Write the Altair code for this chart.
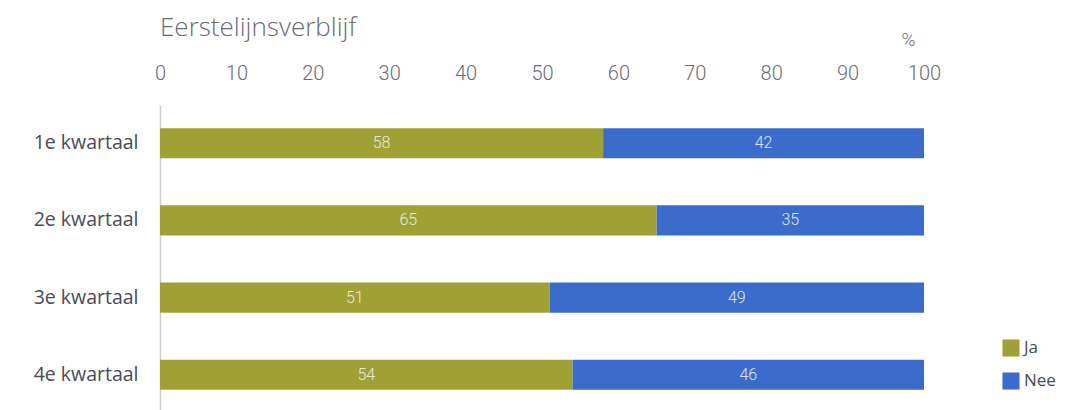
import altair as alt
import pandas as pd

quarters = ["1e kwartaal", "2e kwartaal", "3e kwartaal", "4e kwartaal"]
ja = [58, 65, 51, 54]
nee = [42, 35, 49, 46]
series = ["Ja", "Nee"]
colors = ["#a0a134", "#3b6ccb"]

rows = []
for q, a, b in zip(quarters, ja, nee):
    rows.append({"kwartaal": q, "serie": "Ja", "waarde": a, "volg": 0})
    rows.append({"kwartaal": q, "serie": "Nee", "waarde": b, "volg": 1})
df = pd.DataFrame(rows)

font = "Roboto"
font2 = "Open Sans"

base = alt.Chart(df).transform_stack(
    stack="waarde", groupby=["kwartaal"], sort=[alt.SortField("volg")], as_=["x0", "x1"]
).transform_calculate(mid="(datum.x0 + datum.x1) / 2")

y = alt.Y(
    "kwartaal:N",
    sort=quarters,
    title=None,
    scale=alt.Scale(paddingInner=0.61, paddingOuter=0.3),
    axis=alt.Axis(
        labelFont=font2, labelFontSize=19.5, labelColor="#4a4a58", labelPadding=22,
        ticks=False, domain=True, domainColor="#cfcfd8", domainWidth=1.5, grid=False,
    ),
)

bars = base.mark_bar().encode(
    x=alt.X(
        "x0:Q",
        scale=alt.Scale(domain=[0, 100]),
        axis=alt.Axis(
            orient="top", values=list(range(0, 101, 10)), grid=False, ticks=False, domain=False,
            labelFont=font, labelFontSize=20, labelFontWeight=300, labelColor="#6a6a78",
            labelPadding=22, labelFlush=False,
            title="%", titleFont=font, titleFontSize=19, titleFontWeight=300,
            titleColor="#6a6a78", titleX=748, titleY=-56, titleAlign="center",
        ),
    ),
    x2="x1:Q",
    y=y,
    color=alt.Color(
        "serie:N",
        scale=alt.Scale(domain=series, range=colors),
        legend=alt.Legend(
            title=None, orient="none", legendX=842, legendY=234, symbolType="square",
            symbolSize=290, symbolStrokeWidth=0, labelFont=font2, labelFontSize=17,
            labelColor="#4a4a58", rowPadding=15,
        ),
    ),
)

labels = base.mark_text(font=font, fontSize=16, fontWeight=300, color="#f2f2e6", opacity=0.9).encode(
    x="mid:Q",
    y=alt.Y("kwartaal:N", sort=quarters),
    text="waarde:Q",
)

chart = (
    alt.layer(bars, labels)
    .properties(
        width=764,
        height=308,
        padding={"left": 152, "top": 97, "right": 137, "bottom": 0},
        autosize=alt.AutoSizeParams(type="none"),
        view=alt.ViewBackground(strokeOpacity=0, strokeWidth=0),
        title=alt.TitleParams(
            "Eerstelijnsverblijf", anchor="start", frame="group", font=font2, fontSize=26,
            fontWeight=300, color="#6a6a78", offset=-11,
        ),
    )
    .configure_view(strokeWidth=0, strokeOpacity=0)
    .configure(background="white")
)

chart.save("out.html", embed_options={"renderer": "svg", "actions": False})
